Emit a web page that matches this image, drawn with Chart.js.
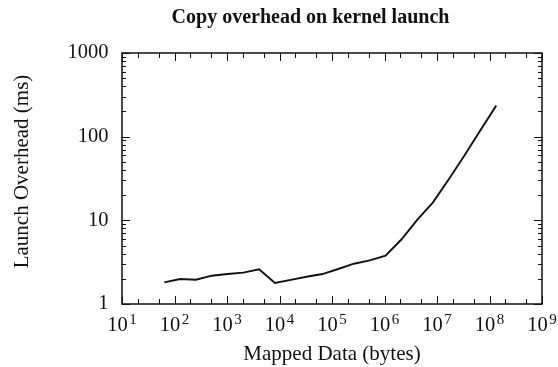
<!DOCTYPE html>
<html><head><meta charset="utf-8">
<script src="https://cdn.jsdelivr.net/npm/chart.js@4/dist/chart.umd.min.js"></script>
<style>html,body{margin:0;padding:0;background:#fff}#wrap{width:558px;height:367px}</style>
</head><body><div id="wrap"><canvas id="c" width="558" height="367"></canvas></div>
<script>
// ---- data ----
const bytes = [64, 128, 256, 512, 1024, 2048, 4096, 8192, 16384, 32768, 65536,
  131072, 262144, 524288, 1048576, 2097152, 4194304, 8388608, 16777216,
  33554432, 67108864, 134217728];
const overheadMs = [1.81, 1.99, 1.95, 2.18, 2.28, 2.37, 2.6, 1.78, 1.94, 2.12, 2.28,
  2.62, 3.03, 3.32, 3.78, 5.9, 10.1, 16.4, 31, 60, 119, 235];
const xTickExponents = [1, 2, 3, 4, 5, 6, 7, 8, 9];
const yTickValues = [1, 10, 100, 1000];
const titleText = 'Copy overhead on kernel launch';
const xTitleText = 'Mapped Data (bytes)';
const yTitleText = 'Launch Overhead (ms)';

const FONT = '"Liberation Serif", "Times New Roman", serif';
const INK = '#111';

const isTickValue = v => yTickValues.some(t => Math.abs(t - v) < 1e-9 * t);

const framePlugin = {
  id: 'frame',
  afterDraw(chart) {
    const ctx = chart.ctx;
    const ca = chart.chartArea;
    const xs = chart.scales.x, ys = chart.scales.y;
    ctx.save();
    ctx.strokeStyle = INK;
    // ticks
    ctx.lineWidth = 1;
    ctx.beginPath();
    for (let e = 1; e <= 9; e++) {
      for (const m of [1, 2, 5]) {
        if (e === 9 && m > 1) continue;
        const v = m * Math.pow(10, e);
        const px = Math.round(xs.getPixelForValue(v)) + 0.5;
        const len = m === 1 ? 8 : 5;
        ctx.moveTo(px, ca.bottom); ctx.lineTo(px, ca.bottom - len);
        ctx.moveTo(px, ca.top); ctx.lineTo(px, ca.top + len);
      }
    }
    for (let e = 0; e <= 3; e++) {
      for (let m = 1; m <= 9; m++) {
        if (e === 3 && m > 1) continue;
        const v = m * Math.pow(10, e);
        const py = Math.round(ys.getPixelForValue(v)) + 0.5;
        const len = m === 1 ? 8 : 4;
        ctx.moveTo(ca.left, py); ctx.lineTo(ca.left + len, py);
        ctx.moveTo(ca.right, py); ctx.lineTo(ca.right - len, py);
      }
    }
    ctx.stroke();
    // frame
    ctx.lineWidth = 1.5;
    ctx.strokeRect(ca.left, ca.top, ca.right - ca.left, ca.bottom - ca.top);

    // x tick labels 10^n
    ctx.fillStyle = INK;
    ctx.textBaseline = 'alphabetic';
    ctx.textAlign = 'left';
    for (const e of xTickExponents) {
      const px = xs.getPixelForValue(Math.pow(10, e));
      ctx.font = '20.5px ' + FONT;
      const w1 = ctx.measureText('10').width;
      ctx.font = '15px ' + FONT;
      const w2 = ctx.measureText(String(e)).width;
      const gap = 1.5;
      const x0 = px - (w1 + gap + w2) / 2;
      ctx.font = '20.5px ' + FONT;
      ctx.fillText('10', x0, ca.bottom + 27);
      ctx.font = '15px ' + FONT;
      ctx.fillText(String(e), x0 + w1 + gap, ca.bottom + 19.5);
    }

    // chart title
    ctx.font = 'bold 20px ' + FONT;
    ctx.textAlign = 'center';
    ctx.fillText(titleText, (ca.left + ca.right) / 2 - 21.5, 23);

    // y axis title
    ctx.font = '21px ' + FONT;
    ctx.translate(22.5, (ca.top + ca.bottom) / 2 - 7);
    ctx.rotate(-Math.PI / 2);
    ctx.textBaseline = 'middle';
    ctx.fillText(yTitleText, 0, 0);
    ctx.restore();
  }
};

new Chart(document.getElementById('c'), {
  type: 'line',
  data: {
    datasets: [{
      data: bytes.map((b, i) => ({ x: b, y: overheadMs[i] })),
      borderColor: INK,
      borderWidth: 1.9,
      pointRadius: 0,
      tension: 0,
      fill: false
    }]
  },
  options: {
    responsive: false,
    animation: false,
    events: [],
    layout: { padding: { top: 53, right: 16, bottom: 0, left: 0 } },
    plugins: { legend: { display: false }, tooltip: { enabled: false }, title: { display: false } },
    scales: {
      x: {
        type: 'logarithmic', min: 10, max: 1e9,
        grid: { display: false }, border: { display: false },
        ticks: { display: false },
        title: { display: true, text: xTitleText, color: INK,
                 font: { family: FONT, size: 21 }, padding: { top: 0, bottom: 0 } },
        afterFit: s => { s.height = 63; }
      },
      y: {
        type: 'logarithmic', min: 1, max: 1000,
        grid: { display: false, drawTicks: false }, border: { display: false },
        ticks: {
          autoSkip: false, color: INK, padding: 13.5,
          font: { family: FONT, size: 20.5 },
          callback: v => isTickValue(v) ? String(Math.round(v)) : ''
        },
        afterFit: s => { s.width = 122; }
      }
    }
  },
  plugins: [framePlugin]
});
</script>
</body></html>
